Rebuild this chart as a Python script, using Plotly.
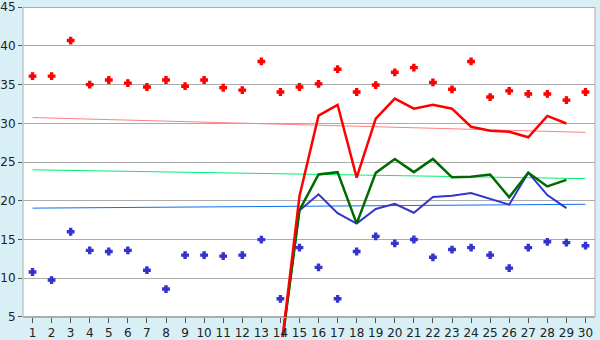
import plotly.graph_objects as go

days = list(range(1, 31))
red_points = [36.1, 36.1, 40.7, 35.0, 35.6, 35.2, 34.7, 35.6, 34.8, 35.6,
              34.6, 34.3, 38.0, 34.05, 34.7, 35.1, 37.0, 34.05, 34.95, 36.6,
              37.2, 35.3, 34.4, 38.0, 33.4, 34.2, 33.8, 33.8, 33.0, 34.05]
blue_points = [10.8, 9.76, 16.0, 13.6, 13.45, 13.6, 11.03, 8.6, 12.98, 12.98,
               12.85, 12.98, 14.98, 7.34, 13.95, 11.4, 7.34, 13.45, 15.4, 14.5,
               15.0, 12.7, 13.7, 13.95, 12.98, 11.3, 13.95, 14.7, 14.6, 14.2]

line_days = list(range(14, 30))
red_line = [0, 20.6, 31.0, 32.4, 23.0, 30.6, 33.2, 31.9, 32.4, 31.9,
            29.56, 29.05, 28.92, 28.2, 30.96, 29.98]
green_line = [0, 18.8, 23.4, 23.7, 17.05, 23.6, 25.4, 23.7, 25.4, 23.03,
              23.1, 23.4, 20.45, 23.63, 21.85, 22.7]
blue_line = [0, 18.74, 20.83, 18.41, 17.05, 18.95, 19.6, 18.45, 20.5, 20.65,
             21.0, 20.23, 19.5, 23.63, 20.74, 19.05]

trend_days = [1, 30]
trend_red = [30.75, 28.84]
trend_green = [24.0, 22.86]
trend_blue = [19.05, 19.55]

y_ticks = [5, 10, 15, 20, 25, 30, 35, 40, 45]

BG = "#d9eff6"
GRID = "#acacac"

fig = go.Figure()
fig.add_trace(go.Scatter(x=trend_days, y=trend_red, mode="lines",
                         line=dict(color="#ff8080", width=1)))
fig.add_trace(go.Scatter(x=trend_days, y=trend_green, mode="lines",
                         line=dict(color="#00f070", width=1)))
fig.add_trace(go.Scatter(x=trend_days, y=trend_blue, mode="lines",
                         line=dict(color="#1070f0", width=1)))
fig.add_trace(go.Scatter(x=line_days, y=blue_line, mode="lines",
                         line=dict(color="#3434cc", width=2)))
fig.add_trace(go.Scatter(x=line_days, y=green_line, mode="lines",
                         line=dict(color="#006a00", width=2.5)))
fig.add_trace(go.Scatter(x=line_days, y=red_line, mode="lines",
                         line=dict(color="#ff0000", width=2.5)))
fig.add_trace(go.Scatter(x=days, y=red_points, mode="markers",
                         marker=dict(symbol="cross", size=5.5, color="#ff0000",
                                     line=dict(color="#ff0000", width=1.2))))
fig.add_trace(go.Scatter(x=days, y=blue_points, mode="markers",
                         marker=dict(symbol="cross", size=5.5, color="#3434cc",
                                     line=dict(color="#3434cc", width=1.2))))

H = 340
T = 2
top_px = 5.3
axis_bottom_px = 319.6
ppu = (axis_bottom_px - top_px) / (45 - 5)
y_lo = 5 - (H - axis_bottom_px) / ppu
y_hi = 45 + (top_px - T) / ppu
x_pos = (5 - y_lo) / (y_hi - y_lo)

fig.update_layout(
    width=600, height=340,
    margin=dict(l=20, r=5, t=T, b=0),
    paper_bgcolor=BG,
    plot_bgcolor="rgba(0,0,0,0)",
    showlegend=False,
    font=dict(family="DejaVu Sans", size=12, color="#222222"),
    xaxis=dict(range=[0.5, 30.5], tickvals=days, showgrid=False, zeroline=False,
               showline=True, linecolor=GRID, linewidth=1,
               ticks="outside", ticklen=5, tickcolor="#555555",
               anchor="free", position=x_pos),
    yaxis=dict(range=[y_lo, y_hi], tickvals=y_ticks, showgrid=True, gridcolor=GRID,
               gridwidth=1, zeroline=False, showline=False,
               ticks="outside", ticklen=4, tickcolor="#555555",
               ticklabeloverflow="allow"),
    shapes=[
        dict(type="rect", xref="paper", yref="y", x0=0, x1=1, y0=5, y1=45,
             fillcolor="white", line=dict(width=0), layer="below"),
        dict(type="line", xref="paper", yref="y", x0=0, x1=0, y0=5, y1=45,
             line=dict(color=GRID, width=1), layer="below"),
        dict(type="line", xref="paper", yref="y", x0=1, x1=1, y0=5, y1=45,
             line=dict(color=GRID, width=1), layer="below"),
    ],
)

fig.write_html("out.html")
